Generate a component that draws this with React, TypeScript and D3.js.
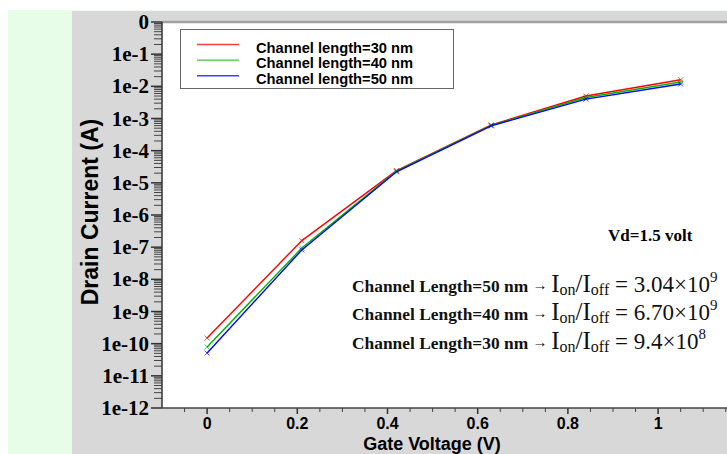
import React, { useEffect, useRef } from 'react';
import * as d3 from 'd3';

// gate voltage positions as they sit in the picture
const gateVoltage = [0, 0.21, 0.42, 0.63, 0.84, 1.05];
const current30 = [1.5e-10, 1.6e-7, 2.4e-5, 6.3e-4, 5.0e-3, 1.6e-2];
const current40 = [7.9e-11, 9.4e-8, 2.3e-5, 6.1e-4, 4.5e-3, 1.36e-2];
const current50 = [5.1e-11, 8.2e-8, 2.2e-5, 5.9e-4, 4.0e-3, 1.18e-2];
const seriesNames = ['Channel length=30 nm', 'Channel length=40 nm', 'Channel length=50 nm'];
const seriesColors = ['#ff0000', '#00b400', '#0000ff'];
const xTicks = [0, 0.2, 0.4, 0.6, 0.8, 1];
const yExponents = [0, -1, -2, -3, -4, -5, -6, -7, -8, -9, -10, -11, -12];
const ratioLabels = ['50', '40', '30'];
const ratioMantissa = ['3.04', '6.70', '9.4'];
const ratioExponent = ['9', '9', '8'];

const W = 727, H = 454;

export default function App() {
    const ref = useRef<SVGSVGElement>(null);

    useEffect(() => {
        const svg = d3.select(ref.current);
        svg.selectAll('*').remove();

        const left = 162, top = 22, bottom = 408;
        const x = d3.scaleLinear().domain([-0.1, 1.2]).range([left, left + 451 * 1.3]);
        const y = d3.scaleLog().domain([1e-12, 1]).range([bottom, top]);

        // backgrounds
        svg.append('rect').attr('width', W).attr('height', H).attr('fill', '#ffffff');
        svg.append('rect').attr('x', 8).attr('y', 10).attr('width', W - 8).attr('height', H - 10).attr('fill', '#e8fde8');
        svg.append('rect').attr('x', 72).attr('y', 11).attr('width', W - 72).attr('height', H - 11).attr('fill', '#d8d8d8');
        svg.append('rect').attr('x', left).attr('y', top).attr('width', W - left).attr('height', bottom - top).attr('fill', '#ffffff');
        svg.append('line').attr('x1', left).attr('x2', W).attr('y1', top).attr('y2', top)
            .attr('stroke', '#a0a0a0').attr('stroke-width', 2.5);

        // y axis with log minor ticks
        let minor: number[] = [];
        for (let e = -12; e < 0; e++) {
            for (let m = 2; m <= 9; m++) minor.push(m * Math.pow(10, e));
        }
        const gy = svg.append('g');
        gy.selectAll('.ymin').data(minor).enter().append('line')
            .attr('x1', left - 8).attr('x2', left)
            .attr('y1', d => y(d)).attr('y2', d => y(d))
            .attr('stroke', '#444').attr('stroke-width', 1);
        gy.selectAll('.ymaj').data(yExponents).enter().append('line')
            .attr('x1', left - 11).attr('x2', left)
            .attr('y1', d => y(Math.pow(10, d))).attr('y2', d => y(Math.pow(10, d)))
            .attr('stroke', '#333').attr('stroke-width', 1.5);
        gy.selectAll('.ylab').data(yExponents).enter().append('text')
            .attr('x', left - 13).attr('y', d => y(Math.pow(10, d)) + 7)
            .attr('text-anchor', 'end')
            .style('font-family', '"Liberation Serif", serif').style('font-weight', 'bold').style('font-size', '21px')
            .text(d => d === 0 ? '0' : '1e' + d);
        gy.append('line').attr('x1', left).attr('x2', left).attr('y1', top).attr('y2', bottom)
            .attr('stroke', '#333').attr('stroke-width', 1.5);

        // x axis
        const gx = svg.append('g');
        const xMinor = d3.range(-0.05, 1.2, 0.05).filter(v => Math.abs(Math.round(v * 5) - v * 5) > 1e-6);
        gx.selectAll('.xmin').data(xMinor).enter().append('line')
            .attr('x1', d => x(d)).attr('x2', d => x(d)).attr('y1', bottom).attr('y2', bottom + 4)
            .attr('stroke', '#444').attr('stroke-width', 1);
        gx.selectAll('.xmaj').data(xTicks).enter().append('line')
            .attr('x1', d => x(d)).attr('x2', d => x(d)).attr('y1', bottom).attr('y2', bottom + 6)
            .attr('stroke', '#333').attr('stroke-width', 1.5);
        gx.selectAll('.xlab').data(xTicks).enter().append('text')
            .attr('x', d => x(d)).attr('y', 429)
            .attr('text-anchor', 'middle')
            .style('font-family', '"Liberation Sans", Arial, sans-serif').style('font-weight', 'bold').style('font-size', '16px')
            .text(d => d3.format('~g')(d));
        gx.append('line').attr('x1', left).attr('x2', W).attr('y1', bottom).attr('y2', bottom)
            .attr('stroke', '#444').attr('stroke-width', 1.5);

        // axis titles
        svg.append('text').attr('x', 432).attr('y', 450).attr('text-anchor', 'middle')
            .style('font-family', '"Liberation Sans", Arial, sans-serif').style('font-weight', 'bold').style('font-size', '18px')
            .text('Gate Voltage (V)');
        svg.append('text').attr('transform', 'translate(98,212) rotate(-90)').attr('text-anchor', 'middle')
            .style('font-family', '"Liberation Sans", Arial, sans-serif').style('font-weight', 'bold').style('font-size', '23px')
            .text('Drain Current (A)');

        // series
        const allSeries = [current30, current40, current50];
        const line = d3.line<number>().x((d, i) => x(gateVoltage[i])).y(d => y(d));
        allSeries.forEach((s, k) => {
            svg.append('path').attr('d', line(s)).attr('fill', 'none')
                .attr('stroke', seriesColors[k]).attr('stroke-width', 1.4);
            svg.selectAll('.mk' + k).data(s).enter().append('path')
                .attr('d', (d, i) => {
                    const cx = x(gateVoltage[i]), cy = y(d), r = 2.5;
                    return `M${cx - r},${cy - r}L${cx + r},${cy + r}M${cx - r},${cy + r}L${cx + r},${cy - r}`;
                })
                .attr('stroke', seriesColors[k]).attr('stroke-width', 1).attr('opacity', 0.7);
        });

        // legend
        const lg = svg.append('g');
        lg.append('rect').attr('x', 180.5).attr('y', 29.5).attr('width', 273).attr('height', 59)
            .attr('fill', '#fff').attr('stroke', '#666').attr('stroke-width', 1);
        seriesNames.forEach((name, k) => {
            const ly = 44.5 + k * 15.6;
            lg.append('line').attr('x1', 197).attr('x2', 239).attr('y1', ly).attr('y2', ly)
                .attr('stroke', seriesColors[k]).attr('stroke-width', 1.4).attr('opacity', 0.75);
            lg.append('text').attr('x', 256).attr('y', ly + 8)
                .style('font-family', '"Liberation Sans", Arial, sans-serif').style('font-weight', 'bold').style('font-size', '14.7px')
                .text(name);
        });

        // annotations
        svg.append('text').attr('x', 608).attr('y', 241)
            .style('font-family', '"Liberation Serif", serif').style('font-weight', 'bold').style('font-size', '17px')
            .text('Vd=1.5 volt');
        ratioLabels.forEach((len, k) => {
            const by = 292 + k * 28.3;
            const t = svg.append('text').attr('x', 352).attr('y', by)
                .style('font-family', '"Liberation Serif", serif').style('fill', '#111');
            t.append('tspan').style('font-weight', 'bold').style('font-size', '17.4px').text('Channel Length=' + len + ' nm ');
            t.append('tspan').style('font-size', '15px').attr('dy', -2).text('→ ');
            t.append('tspan').style('font-size', '25px').attr('dy', 2).text('I');
            t.append('tspan').style('font-size', '16px').attr('dy', 3).text('on');
            t.append('tspan').style('font-size', '25px').attr('dy', -3).text('/I');
            t.append('tspan').style('font-size', '16px').attr('dy', 3).text('off');
            t.append('tspan').style('font-size', '23px').attr('dy', -3).text(' = ' + ratioMantissa[k] + '×10');
            t.append('tspan').style('font-size', '15px').attr('dy', -10).text(ratioExponent[k]);
        });
    }, []);

    return (
        <svg ref={ref} width={W} height={H}
            style={{ position: 'absolute', left: 0, top: 0, display: 'block' }} />
    );
}
